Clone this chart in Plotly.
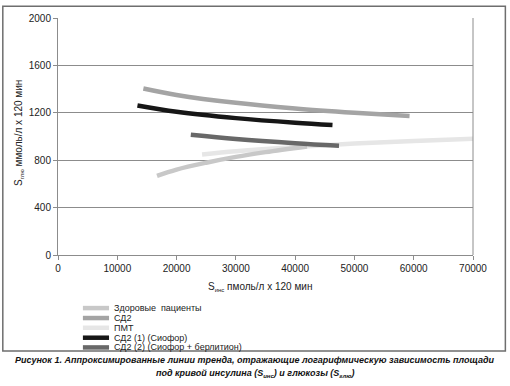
import plotly.graph_objects as go

# Data (trend lines)
healthy_x = [16700, 20000, 25000, 30000, 35000, 42000]
healthy_y = [668, 721, 779, 828, 868, 916]
sd2_x = [14400, 20000, 30000, 40000, 50000, 59300]
sd2_y = [1405, 1351, 1284, 1236, 1200, 1172]
pmt_x = [24300, 30000, 40000, 50000, 60000, 70000]
pmt_y = [848, 875, 911, 940, 963, 982]
sd2_1_x = [13400, 20000, 30000, 40000, 46300]
sd2_1_y = [1262, 1209, 1155, 1116, 1097]
sd2_2_x = [22400, 30000, 40000, 47400]
sd2_2_y = [1015, 979, 943, 922]

names = ["Здоровые  пациенты", "СД2", "ПМТ", "СД2 (1) (Сиофор)", "СД2 (2) (Сиофор + берлитион)"]
colors = ["#c8c8c8", "#a4a4a4", "#e6e6e6", "#161616", "#686868"]
series = [(healthy_x, healthy_y), (sd2_x, sd2_y), (pmt_x, pmt_y), (sd2_1_x, sd2_1_y), (sd2_2_x, sd2_2_y)]

x_ticks = [0, 10000, 20000, 30000, 40000, 50000, 60000, 70000]
y_ticks = [0, 400, 800, 1200, 1600, 2000]

FONT = "Liberation Sans, Arial, sans-serif"

fig = go.Figure()
draw_order = [2, 0, 1, 4, 3]
for i in draw_order:
    xs, ys = series[i]
    fig.add_trace(go.Scatter(x=xs, y=ys, mode="lines", name=names[i],
                             line=dict(color=colors[i], width=4.5, shape="spline"),
                             showlegend=False, hoverinfo="skip"))

shapes = []
annotations = []

# outer border
shapes.append(dict(type="rect", xref="paper", yref="paper",
                   x0=-0.133, x1=1.078, y0=-0.405, y1=1.050,
                   line=dict(color="#6e6e6e", width=1.5), fillcolor="rgba(0,0,0,0)", layer="above"))
# right border of plot area
shapes.append(dict(type="line", xref="paper", yref="paper", x0=1, x1=1, y0=0, y1=1,
                   line=dict(color="#8c8c8c", width=1)))

# legend
row_y = [-0.224, -0.266, -0.307, -0.349, -0.390]
for i in range(5):
    shapes.append(dict(type="line", xref="paper", yref="paper", x0=0.060, x1=0.123,
                       y0=row_y[i], y1=row_y[i], line=dict(color=colors[i], width=4.5)))
    annotations.append(dict(xref="paper", yref="paper", x=0.130, y=row_y[i], text=names[i],
                            showarrow=False, xanchor="left", yanchor="middle",
                            font=dict(family=FONT, size=9, color="#222")))

# axis titles
annotations.append(dict(xref="paper", yref="paper", x=0.487, y=-0.133,
                        text="S<sub><span style='font-size:6px'>инс</span></sub> пмоль/л х 120 мин",
                        showarrow=False, xanchor="center", yanchor="middle",
                        font=dict(family=FONT, size=10, color="#222")))
annotations.append(dict(xref="paper", yref="paper", x=-0.094, y=0.515, textangle=-90,
                        text="S<sub><span style='font-size:6px'>глю</span></sub> ммоль/л х 120 мин",
                        showarrow=False, xanchor="center", yanchor="middle",
                        font=dict(family=FONT, size=10, color="#222")))

# caption
annotations.append(dict(xref="paper", yref="paper", x=0.475, y=-0.444,
                        text="<b><i>Рисунок 1. Аппроксимированные линии тренда, отражающие логарифмическую зависимость площади</i></b>",
                        showarrow=False, xanchor="center", yanchor="middle",
                        font=dict(family=FONT, size=9, color="#111")))
annotations.append(dict(xref="paper", yref="paper", x=0.475, y=-0.502,
                        text="<b><i>под кривой инсулина (S<sub><span style='font-size:6px'>инс</span></sub>) и глюкозы (S<sub><span style='font-size:6px'>глю</span></sub>)</i></b>",
                        showarrow=False, xanchor="center", yanchor="middle",
                        font=dict(family=FONT, size=9, color="#111")))

fig.update_layout(
    width=510, height=386,
    margin=dict(l=58, r=37, t=14, b=131),
    paper_bgcolor="white", plot_bgcolor="white",
    font=dict(family=FONT, size=10, color="#222"),
    shapes=shapes, annotations=annotations,
    showlegend=False,
)
fig.update_xaxes(range=[0, 70000], tickvals=x_ticks, ticktext=[str(v) for v in x_ticks],
                 showgrid=False, showline=True, linecolor="#8c8c8c", linewidth=1,
                 ticks="outside", ticklen=4, tickcolor="#8c8c8c", zeroline=False,
                 tickfont=dict(family=FONT, size=10, color="#222"))
fig.update_yaxes(range=[0, 2000], tickvals=y_ticks, ticktext=[str(v) for v in y_ticks],
                 showgrid=True, gridcolor="#8c8c8c", gridwidth=1,
                 showline=True, linecolor="#8c8c8c", linewidth=1,
                 ticks="outside", ticklen=4, tickcolor="#8c8c8c", zeroline=False,
                 tickfont=dict(family=FONT, size=10, color="#222"))

fig.write_html("out.html", config={"displayModeBar": False},
               post_script="document.body.style.margin='0';document.body.style.padding='0';")
